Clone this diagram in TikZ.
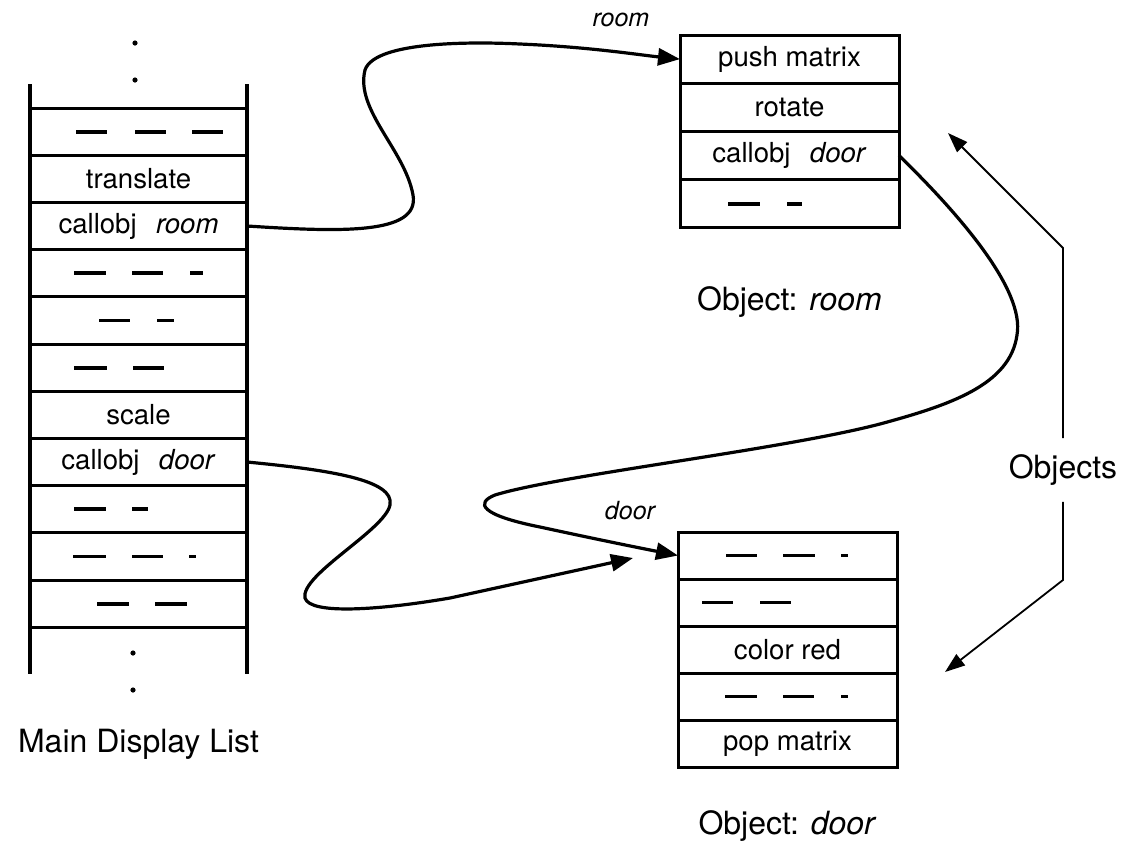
\documentclass[tikz,border=0pt]{standalone}
\usepackage{fontspec}
\setmainfont{TeX Gyre Heros}
\usetikzlibrary{positioning,arrows.meta}

\tikzset{
  listcell/.style={draw,line width=1.5pt,minimum width=108.5pt,minimum height=23.6pt,
    inner sep=0pt,outer sep=0pt,font=\fontsize{13.8}{16}\selectfont},
  gapcell/.style={minimum width=108.5pt,minimum height=23.6pt,inner sep=0pt,outer sep=0pt},
  roomcell/.style={listcell,minimum width=109.5pt,minimum height=24.1pt},
  doorcell/.style={listcell,minimum width=109.5pt,minimum height=23.5pt},
  railline/.style={line width=2pt},
  dashbar/.style={line width=1.9pt},
  callarrow/.style={line width=1.6pt,-{Triangle[length=11pt,width=8.5pt]}},
  objarrow/.style={line width=0.9pt,-{Triangle[length=10pt,width=7pt]}},
  captiontext/.style={inner sep=0pt,font=\fontsize{16}{19}\selectfont},
  nametag/.style={inner sep=0pt,font=\fontsize{12.5}{15}\selectfont\itshape}
}

\begin{document}
\begin{tikzpicture}[x=0.5pt,y=-0.5pt]
    \useasboundingbox (0,0) rectangle (1137,848);

    \node [listcell,anchor=north west] (r1) at (30,108) {};
    \node [listcell,below=0pt of r1] (r2) {translate};
    \node [listcell,below=0pt of r2] (r3) {callobj\hspace{0.7em}\textit{room}};
    \node [listcell,below=0pt of r3] (r4) {};
    \node [listcell,below=0pt of r4] (r5) {};
    \node [listcell,below=0pt of r5] (r6) {};
    \node [listcell,below=0pt of r6] (r7) {scale};
    \node [listcell,below=0pt of r7] (r8) {callobj\hspace{0.7em}\textit{door}};
    \node [listcell,below=0pt of r8] (r9) {};
    \node [listcell,below=0pt of r9] (r10) {};
    \node [listcell,below=0pt of r10] (r11) {};
    \node [gapcell,below=0pt of r11] (r12) {};

    \draw [railline] ([yshift=12pt]r1.north west) -- (r12.south west);
    \draw [railline] ([yshift=12pt]r1.north east) -- (r12.south east);

    \draw [dashbar] (r1.west) ++(46,0) -- ++(31,0) ++(28,0) -- ++(31,0) ++(26,0) -- ++(31,0);
    \draw [dashbar] (r4.west) ++(44,0) -- ++(32,0) ++(26,0) -- ++(31,0) ++(27,0) -- ++(13,0);
    \draw [dashbar] (r5.west) ++(69,0) -- ++(31,0) ++(27,0) -- ++(17,0);
    \draw [dashbar] (r6.west) ++(44,0) -- ++(33,0) ++(26,0) -- ++(31,0);
    \draw [dashbar] (r9.west) ++(44,0) -- ++(32,0) ++(26,0) -- ++(16,0);
    \draw [dashbar] (r10.west) ++(43,0) -- ++(33,0) ++(26,0) -- ++(31,0) ++(26,0) -- ++(7,0);
    \draw [dashbar] (r11.west) ++(67,0) -- ++(32,0) ++(26,0) -- ++(32,0);

    \fill (135,43) circle (1.3pt);
    \fill (135,80) circle (1.3pt);
    \fill (133,653) circle (1.3pt);
    \fill (133,690) circle (1.3pt);

    \node [roomcell,anchor=north west] (rm1) at (680,35) {push matrix};
    \node [roomcell,below=0pt of rm1] (rm2) {rotate};
    \node [roomcell,below=0pt of rm2] (rm3) {callobj\hspace{0.7em}\textit{door}};
    \node [roomcell,below=0pt of rm3] (rm4) {};
    \draw [dashbar] (rm4.west) ++(48,0) -- ++(32,0) ++(27,0) -- ++(15,0);

    \node [doorcell,anchor=north west] (d1) at (678,532) {};
    \node [doorcell,below=0pt of d1] (d2) {};
    \node [doorcell,below=0pt of d2] (d3) {color red};
    \node [doorcell,below=0pt of d3] (d4) {};
    \node [doorcell,below=0pt of d4] (d5) {pop matrix};
    \draw [dashbar] (d1.west) ++(48,0) -- ++(31,0) ++(26,0) -- ++(32,0) ++(26,0) -- ++(7,0);
    \draw [dashbar] (d2.west) ++(24,0) -- ++(31,0) ++(27,0) -- ++(31,0);
    \draw [dashbar] (d4.west) ++(47,0) -- ++(32,0) ++(26,0) -- ++(31,0) ++(27,0) -- ++(7,0);

    \node [captiontext,below=27pt of r12] (mainname) {Main Display List};
    \node [captiontext,below=29pt of rm4] (roomname) {Object: \textit{room}};
    \node [captiontext,below=21.5pt of d5] (doorname) {Object: \textit{door}};
    \node [captiontext,inner sep=8pt] (objs) at (1063,470) {Objects};
    \node [nametag] (roomtag) at (621,20) {room};
    \node [nametag] (doortag) at (630,511) {door};

    \coordinate (upbend) at (1063,248);
    \coordinate (uptip) at (948,133);
    \coordinate (downbend) at (1063,580);
    \coordinate (downtip) at (945,672);
    \coordinate (doorhalt) at (633,558);

    \draw [objarrow] (objs.north) -- (upbend) -- (uptip);
    \draw [objarrow] (objs.south) -- (downbend) -- (downtip);

    \draw [callarrow] (r3.east) .. controls (340,232) and (420,235) .. (413,195)
        .. controls (405,150) and (355,110) .. (365,70)
        .. controls (375,40) and (480,42) .. (520,44)
        .. controls (590,47) and (640,55) .. (rm1.west);
    \draw [callarrow] (r8.east) .. controls (330,470) and (395,480) .. (390,505)
        .. controls (385,530) and (300,575) .. (305,598)
        .. controls (310,615) and (380,610) .. (450,598)
        -- (doorhalt);
    \draw [callarrow] (rm3.east) .. controls (960,215) and (1025,290) .. (1017,335)
        .. controls (1010,385) and (950,405) .. (880,424)
        .. controls (780,450) and (560,475) .. (495,495)
        .. controls (475,503) and (480,515) .. (540,527)
        .. controls (600,540) and (640,548) .. (d1.west);
\end{tikzpicture}
\end{document}
